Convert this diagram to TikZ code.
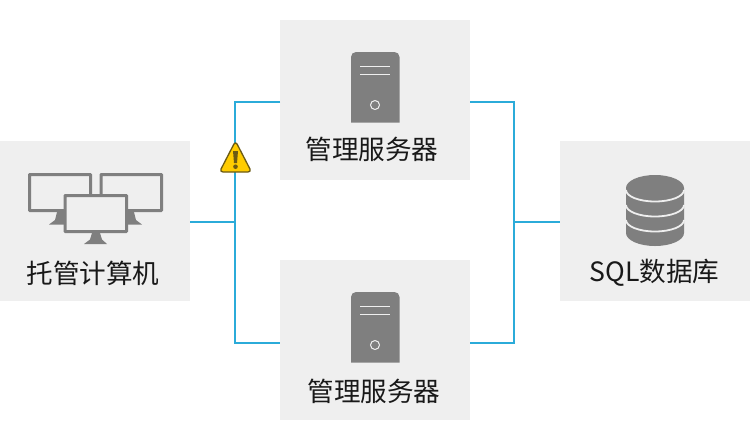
\documentclass[tikz,border=0pt]{standalone}
\usepackage{fontspec}
\newfontfamily\cjkf{Noto Sans CJK SC}
\definecolor{panel}{HTML}{EFEFEF}
\definecolor{wire}{HTML}{2BABD9}
\definecolor{icon}{HTML}{7F7F7F}
\definecolor{warn}{HTML}{FFCC00}
\definecolor{warnline}{HTML}{6B5A14}
\tikzset{
  panelbox/.style={fill=panel,draw=none,minimum width=190pt,minimum height=160pt,inner sep=0pt,outer sep=0pt},
  wireline/.style={draw=wire,line width=2.1pt},
  label/.style={font=\cjkf\fontsize{26.6pt}{30pt}\selectfont,text=black!90,inner sep=0pt},
  monitor/.style={draw=icon,line width=3pt,fill=panel,rounded corners=0.5pt},
  iconfill/.style={fill=icon,draw=none},
  slot/.style={draw=panel,line width=1.9pt},
  band/.style={draw=panel,line width=1.8pt},
}
\begin{document}
\begin{tikzpicture}[x=1pt,y=-1pt]
\useasboundingbox (0,0) rectangle (750,440);
% panels
\node[panelbox] (host) at (95,221) {};
\node[panelbox] (s1) at (375,100) {};
\node[panelbox] (s2) at (375,340) {};
\node[panelbox] (db) at (655,221) {};
% wires
\coordinate (hostout) at (190,222);
\coordinate (jl) at (235,222);
\coordinate (jlt) at (235,102);
\coordinate (jlb) at (235,343);
\coordinate (s1w) at (280,102);
\coordinate (s2w) at (280,343);
\coordinate (s1e) at (470,102);
\coordinate (s2e) at (470,343);
\coordinate (jrt) at (514,102);
\coordinate (jrb) at (514,343);
\coordinate (jr) at (514,222);
\coordinate (dbin) at (560,222);
\draw[wireline] (hostout) -- (jl);
\draw[wireline] (s1w) -- (jlt) -- (jlb) -- (s2w);
\draw[wireline] (s1e) -- (jrt) -- (jrb) -- (s2e);
\draw[wireline] (jr) -- (dbin);
% monitors
\fill[iconfill] (52,224.5) -- (49,224.5) -- (55,220) -- (57,212) -- (66,212) -- (66,224.5) -- cycle;
\fill[iconfill] (139,224.5) -- (142,224.5) -- (136,220) -- (134,212) -- (125,212) -- (125,224.5) -- cycle;
\draw[monitor] (29.5,174.5) rectangle (90.5,210.5);
\draw[monitor] (101,174.5) rectangle (161.5,210.5);
\draw[monitor] (65,195.5) rectangle (126.5,231.5);
\fill[iconfill] (84,244) -- (90,239.5) -- (92,233) -- (100,233) -- (102,239.5) -- (107,244) -- cycle;
% server icons
\foreach \cy in {0,240}{
  \begin{scope}[yshift=-\cy pt]
    \fill[iconfill] (351,122.5) -- (351,57) arc[start angle=180,end angle=270,radius=5] -- (394.5,52) arc[start angle=270,end angle=360,radius=5] -- (399.5,122.5) -- cycle;
    \draw[slot] (360,66.5) -- (390,66.5);
    \draw[slot] (360,74.5) -- (390,74.5);
    \draw[draw=panel,line width=1pt] (375,105) circle[radius=4.5];
  \end{scope}
}
% database
\fill[iconfill] (626,188) arc[start angle=180,end angle=360,x radius=29,y radius=13] -- (684,233) arc[start angle=0,end angle=180,x radius=29,y radius=13] -- cycle;
\draw[band] (626,190) arc[start angle=180,end angle=360,x radius=29,y radius=-11.5];
\draw[band] (626,205) arc[start angle=180,end angle=360,x radius=29,y radius=-11.5];
\draw[band] (626,220) arc[start angle=180,end angle=360,x radius=29,y radius=-11.5];
% warning
\filldraw[fill=warn,draw=warnline,line width=1.3pt,line join=round,rounded corners=3.5pt] (235.5,141) -- (251.5,172) -- (219.5,172) -- cycle;
\fill[warnline] (233,151) -- (238,151) -- (237,163) -- (234,163) -- cycle;
\fill[warnline] (235.5,166.7) circle[radius=2.3];
% labels
\node[label] (hostlabel) at (93,273) {托管计算机};
\node[label] (s1label) at (372,149) {管理服务器};
\node[label] (s2label) at (374,391) {管理服务器};
\node[label] (dblabel) at (654.5,273) {SQL数据库};
\end{tikzpicture}
\end{document}
